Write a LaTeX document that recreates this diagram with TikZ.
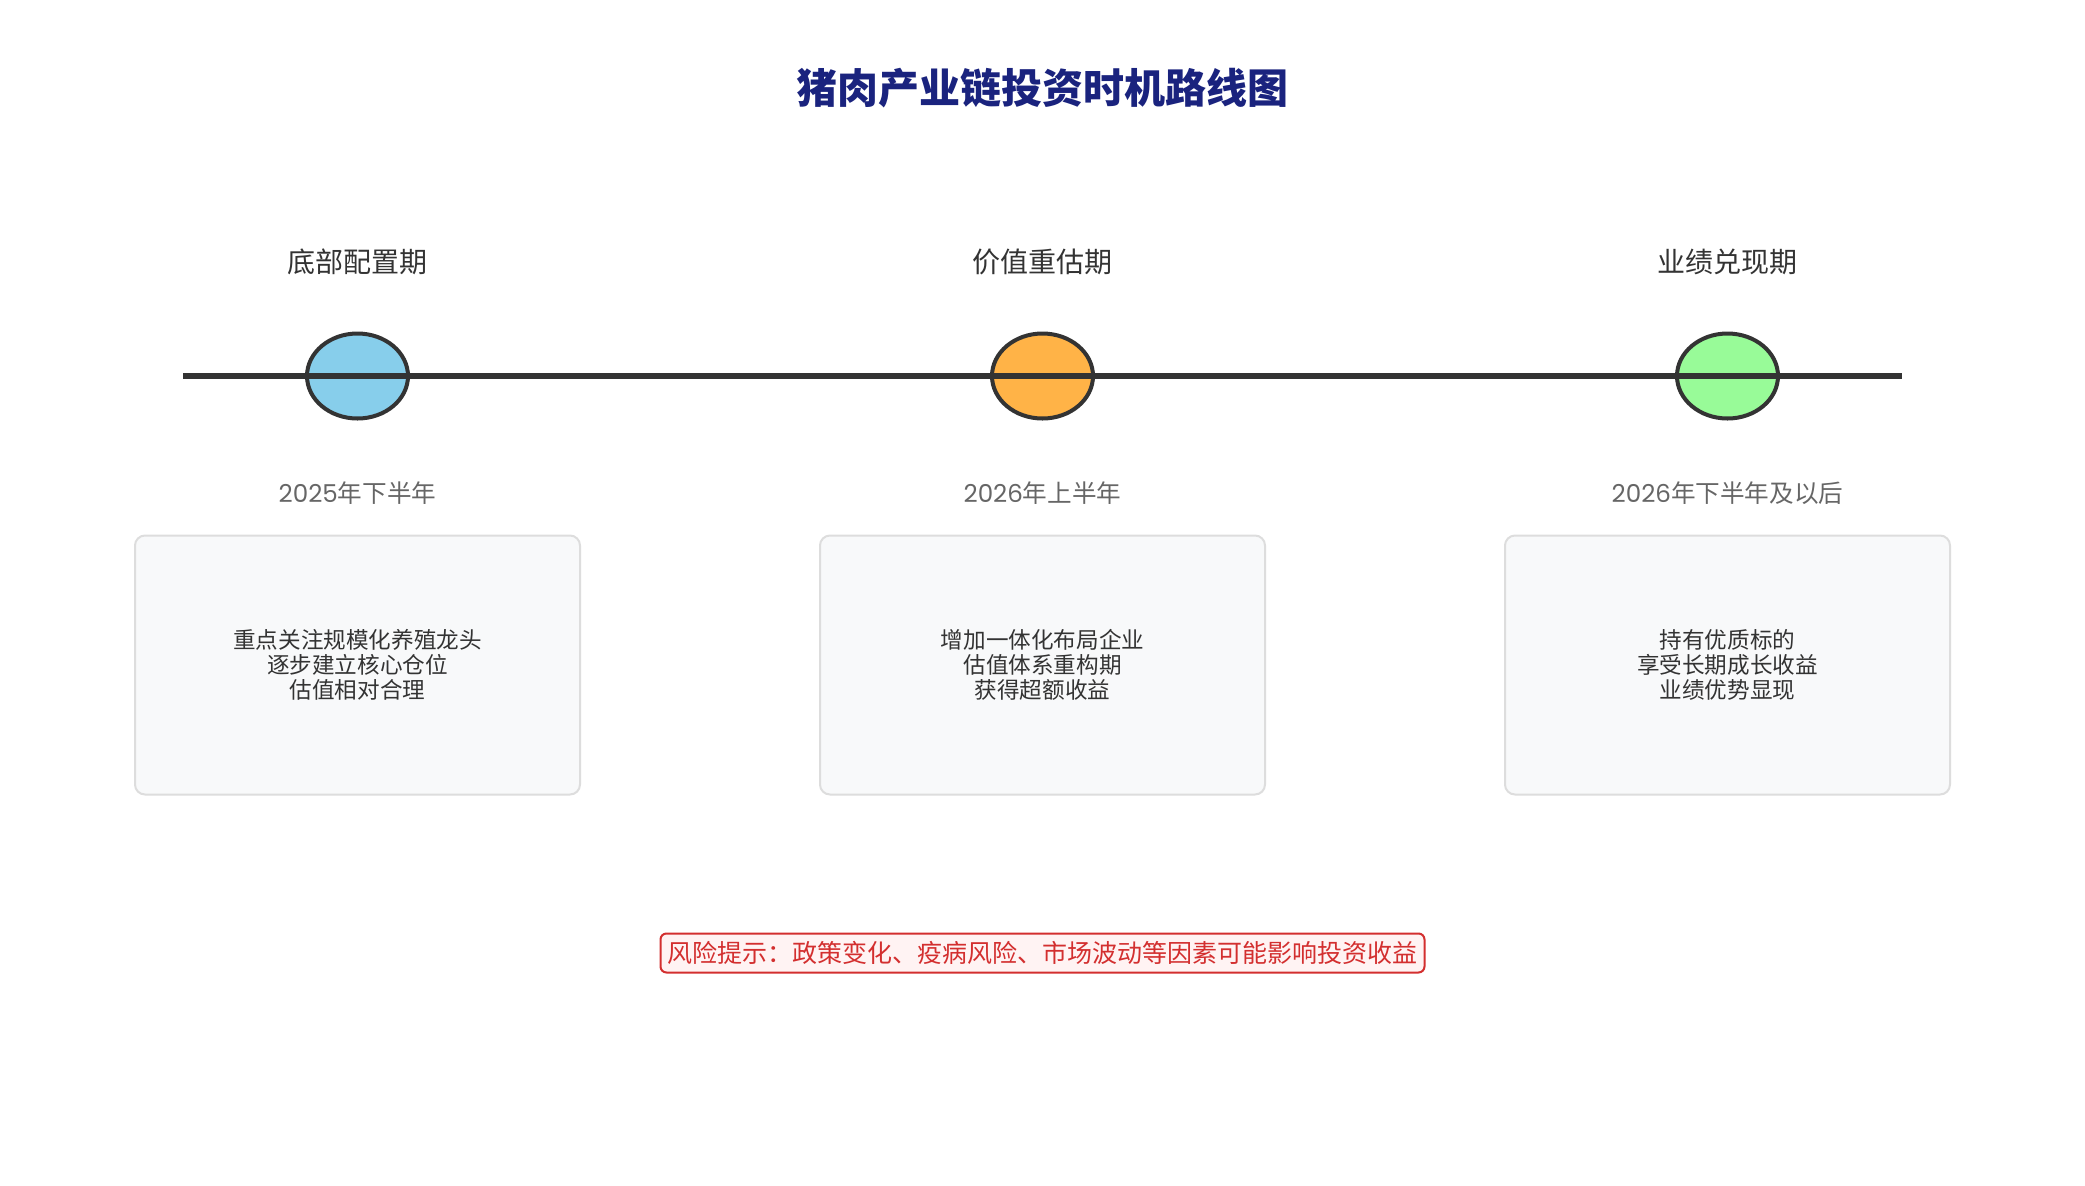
\documentclass[tikz,border=0pt]{standalone}
\usepackage{fontspec}
\setmainfont{Noto Sans CJK SC}
\newfontfamily\latfont{Poppins}
\usetikzlibrary{shapes.geometric}
\definecolor{titleblue}{HTML}{1A237E}
\definecolor{darkline}{HTML}{333333}
\definecolor{dategray}{HTML}{666666}
\definecolor{boxfill}{HTML}{F8F9FA}
\definecolor{boxline}{HTML}{DDDDDD}
\definecolor{riskred}{HTML}{D32F2F}
\definecolor{riskfill}{HTML}{FFF3F3}
\definecolor{dotblue}{HTML}{87CEEB}
\definecolor{dotorange}{HTML}{FFB347}
\definecolor{dotgreen}{HTML}{98FB98}
\tikzset{
  maintitle/.style={font=\fontsize{20.5pt}{24pt}\selectfont\bfseries, text=titleblue, inner sep=0},
  stagetitle/.style={font=\fontsize{14pt}{17pt}\selectfont, text=darkline, inner sep=0},
  datelabel/.style={font=\fontsize{12.3pt}{15pt}\selectfont, text=dategray, inner sep=0},
  dot/.style={ellipse, draw=darkline, line width=2pt, minimum width=50.5pt, minimum height=42.5pt, inner sep=0},
  infobox/.style={draw=boxline, fill=boxfill, line width=1pt, rounded corners=5pt, minimum width=222.5pt, minimum height=129.5pt, inner sep=0, align=center, text=darkline, font=\fontsize{11.3pt}{12.5pt}\selectfont},
  riskbox/.style={draw=riskred, fill=riskfill, line width=1pt, rounded corners=3pt, minimum width=382pt, minimum height=19.5pt, inner sep=0, text=riskred, font=\fontsize{12.5pt}{15pt}\selectfont},
  timeline/.style={draw=darkline, line width=3pt}
}
\begin{document}
\begin{tikzpicture}[x=0.5pt, y=-0.5pt]
\useasboundingbox (0,0) rectangle (2085,1185);
\fill[white] (0,0) rectangle (2085,1185);

\node[maintitle] (title) at (1042.5,88) {猪肉产业链投资时机路线图};

% stage dots
\node[dot, fill=dotblue] (d1) at (357.5,376) {};
\node[dot, fill=dotorange] (d2) at (1042.5,376) {};
\node[dot, fill=dotgreen] (d3) at (1727.5,376) {};

% timeline
\coordinate (tlstart) at (183,376);
\coordinate (tlend) at (1902,376);
\draw[timeline] (tlstart) -- (tlend);

% stage titles
\node[stagetitle] (s1) at (357.5,262) {底部配置期};
\node[stagetitle] (s2) at (1042.5,262) {价值重估期};
\node[stagetitle] (s3) at (1727.5,262) {业绩兑现期};

% dates
\node[datelabel] (t1) at (357.5,493) {{\latfont 2025}年下半年};
\node[datelabel] (t2) at (1042.5,493) {{\latfont 2026}年上半年};
\node[datelabel] (t3) at (1727.5,493) {{\latfont 2026}年下半年及以后};

% info boxes
\node[infobox] (b1) at (357.5,665) {重点关注规模化养殖龙头\\逐步建立核心仓位\\估值相对合理};
\node[infobox] (b2) at (1042.5,665) {增加一体化布局企业\\估值体系重构期\\获得超额收益};
\node[infobox] (b3) at (1727.5,665) {持有优质标的\\享受长期成长收益\\业绩优势显现};

% risk note
\node[riskbox] (risk) at (1042.5,953) {风险提示：政策变化、疫病风险、市场波动等因素可能影响投资收益};
\end{tikzpicture}
\end{document}
